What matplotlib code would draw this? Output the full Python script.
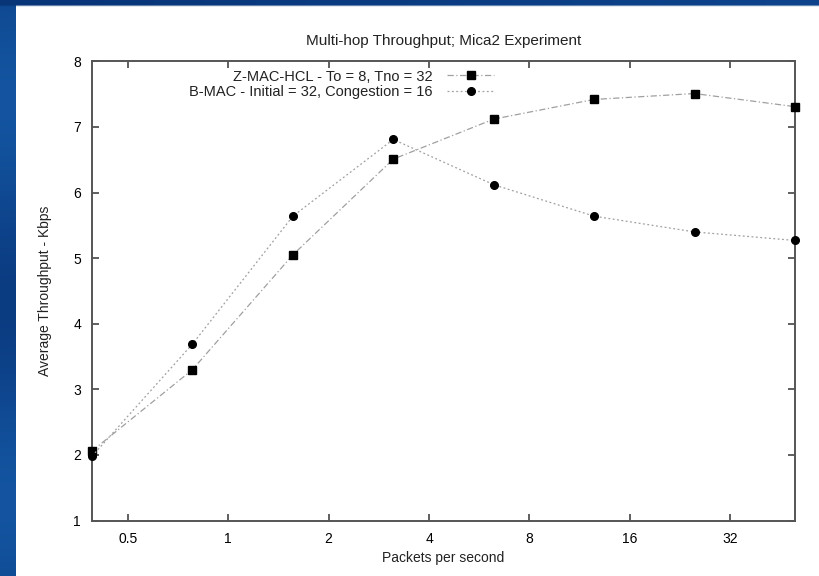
import numpy as np
import matplotlib
matplotlib.use("Agg")
import matplotlib.pyplot as plt
from matplotlib.ticker import FixedLocator, FixedFormatter, NullLocator

# Data
packets = [0.390625, 0.78125, 1.5625, 3.125, 6.25, 12.5, 25, 50]
zmac = [2.06, 3.30, 5.05, 6.51, 7.12, 7.42, 7.51, 7.31]
bmac = [1.98, 3.69, 5.64, 6.81, 6.12, 5.64, 5.40, 5.27]
xticks = [0.5, 1, 2, 4, 8, 16, 32]
xtick_labels = ["0.5", "1", "2", "4", "8", "16", "32"]
yticks = [1, 2, 3, 4, 5, 6, 7, 8]
labels = ["Z-MAC-HCL - To = 8, Tno = 32", "B-MAC - Initial = 32, Congestion = 16"]
title = "Multi-hop Throughput; Mica2 Experiment"

plt.rcParams['font.family'] = ['Liberation Sans', 'DejaVu Sans']

W, H = 819, 576
fig = plt.figure(figsize=(W / 100, H / 100), dpi=100)
fig.patch.set_facecolor('white')

# blue slide border
bg = fig.add_axes([0, 0, 1, 1], zorder=-10)
bg.set_axis_off()
yy = np.linspace(0, 1, 300)
left = 0.5 + 0.5 * np.sin(yy * 9.0) * 0.6
c1 = np.array([8, 52, 120]) / 255
c2 = np.array([22, 92, 170]) / 255
img = np.ones((300, 819, 3))
strip = c1[None, :] + (c2 - c1)[None, :] * left[:, None]
img[:, :16, :] = strip[:, None, :]
xx = np.linspace(0, 1, 819)
top = c1[None, :] * (1 - 0.4 * xx[:, None]) + c2[None, :] * 0.4 * xx[:, None]
rows_top = int(round(6 / 576 * 300))
img[:max(rows_top, 3), :, :] = top[None, :, :]
bg.imshow(img, aspect='auto', extent=[0, 1, 0, 1], origin='upper', interpolation='bilinear')
bg.set_xlim(0, 1)
bg.set_ylim(0, 1)

# main axes in pixel coords
x0, x1 = 92, 795
y0, y1 = 61.4, 520.5
ax = fig.add_axes([x0 / W, 1 - y1 / H, (x1 - x0) / W, (y1 - y0) / H])
ax.set_xscale('log', base=2)
ax.set_xlim(packets[0], packets[-1])
ax.set_ylim(1, 8)

ax.plot(packets, zmac, color='#a0a0a0', lw=0.9, ls=(0, (5, 2, 1, 2)),
        marker='s', ms=6, mfc='black', mec='black', label=labels[0], clip_on=False, zorder=3)
ax.plot(packets, bmac, color='#a0a0a0', lw=0.9, ls=(0, (1.5, 2)),
        marker='o', ms=5.5, mfc='black', mec='black', label=labels[1], clip_on=False, zorder=3)

ax.xaxis.set_major_locator(FixedLocator(xticks))
ax.xaxis.set_major_formatter(FixedFormatter(xtick_labels))
ax.xaxis.set_minor_locator(NullLocator())
ax.set_yticks(yticks)
ax.tick_params(axis='both', which='major', direction='in', length=5, width=1.2,
               color='#444444', labelsize=10, top=True, right=True, pad=8)
for s in ax.spines.values():
    s.set_color('#555555')
    s.set_linewidth(1.4)

ax.set_xlabel("Packets per second", fontsize=10, color='#222222', labelpad=4)
ax.set_ylabel("Average Throughput - Kbps", fontsize=10, color='#222222', labelpad=15)
ax.set_title(title, fontsize=11, color='#222222', pad=12)

leg = ax.legend(loc='upper right', bbox_to_anchor=((499 - x0) / (x1 - x0), 1.0 - 3 / (y1 - y0)),
                frameon=False, fontsize=10.5, markerfirst=False, handlelength=3.2, borderaxespad=0.0,
                borderpad=0.35, labelspacing=0.12, handletextpad=1.0)
for t in leg.get_texts():
    t.set_ha('right')
    t.set_color('#222222')
leg._legend_box.align = "right"

fig.savefig("out.png", dpi=100)
